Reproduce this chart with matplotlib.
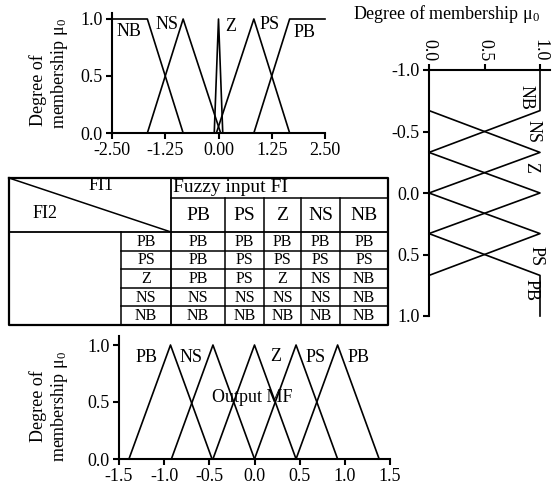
import numpy as np
import matplotlib
matplotlib.use('Agg')
import matplotlib.pyplot as plt

plt.rcParams['font.family'] = ['Liberation Serif', 'DejaVu Serif']
plt.rcParams['mathtext.fontset'] = 'custom'
plt.rcParams['mathtext.rm'] = 'Liberation Serif'
plt.rcParams['mathtext.it'] = 'Liberation Serif:italic'

# --- data ---
# input MF (FI1, top), x breakpoints and membership values
in_names = ['NB', 'NS', 'Z', 'PS', 'PB']
in_x = [[-2.5, -1.67, -0.83],
        [-1.67, -0.83, 0.05],
        [-0.1, 0.0, 0.1],
        [-0.05, 0.83, 1.67],
        [0.83, 1.67, 2.5]]
in_mu = [[1, 1, 0], [0, 1, 0], [0, 1, 0], [0, 1, 0], [0, 1, 1]]

# input MF (FI2, right, rotated): input value vs membership
fi2_val = [[-1.0, -0.67, -0.33],
           [-0.67, -0.33, 0.0],
           [-0.33, 0.0, 0.33],
           [0.0, 0.33, 0.67],
           [0.33, 0.67, 1.0]]
fi2_mu = [[1, 1, 0], [0, 1, 0], [0, 1, 0], [0, 1, 0], [0, 1, 1]]

# output MF (bottom) triangles
out_names = ['PB', 'NS', 'Z', 'PS', 'PB']
out_left = [-1.39, -0.92, -0.46, 0.0, 0.46]
out_peak = [-0.93, -0.46, 0.0, 0.46, 0.92]
out_right = [-0.47, 0.0, 0.46, 0.92, 1.38]

# rule table
fi1_labels = ['PB', 'PS', 'Z', 'NS', 'NB']
fi2_labels = ['PB', 'PS', 'Z', 'NS', 'NB']
rules = [['PB', 'PB', 'PB', 'PB', 'PB'],
         ['PB', 'PS', 'PS', 'PS', 'PS'],
         ['PB', 'PS', 'Z', 'NS', 'NB'],
         ['NS', 'NS', 'NS', 'NS', 'NB'],
         ['NB', 'NB', 'NB', 'NB', 'NB']]

W, H = 556, 491
fig = plt.figure(figsize=(W / 100, H / 100), dpi=100)


def px_axes(x0, y0, x1, y1):
    return fig.add_axes([x0 / W, 1 - y1 / H, (x1 - x0) / W, (y1 - y0) / H])


def style(ax):
    for s in ['left', 'bottom', 'top', 'right']:
        ax.spines[s].set_linewidth(1.5)
    ax.tick_params(direction='out', length=4.5, width=1.5, labelsize=13, pad=2)
    ax.patch.set_alpha(0)


LW = 1.2
mu_label = 'membership μ$_0$'

# --- table (pixel coordinates) ---
tab = fig.add_axes([0, 0, 1, 1])
tab.set_xlim(0, W)
tab.set_ylim(H, 0)
tab.axis('off')
tab.patch.set_alpha(0)

t_l, t_r, t_t, t_b = 9, 388, 178, 325
h1, h2, lab_l = 198, 232, 121
col_edges = [171, 225, 264, 301, 340, 388]
row_edges = np.linspace(h2, t_b, len(fi2_labels) + 1)

tab.plot([t_l, t_r, t_r, t_l, t_l], [t_t, t_t, t_b, t_b, t_t], color='k', lw=1.6)
tab.plot([col_edges[0], t_r], [h1, h1], color='k', lw=1.1)
tab.plot([t_l, t_r], [h2, h2], color='k', lw=1.3)
tab.plot([col_edges[0], col_edges[0]], [t_t, t_b], color='k', lw=1.3)
for cx in col_edges[1:-1]:
    tab.plot([cx, cx], [h1, t_b], color='k', lw=1.1)
tab.plot([lab_l, lab_l], [h2, t_b], color='k', lw=1.1)
for ry in row_edges[1:-1]:
    tab.plot([lab_l, t_r], [ry, ry], color='k', lw=1.1)
tab.plot([t_l, col_edges[0]], [t_t, h2], color='k', lw=1.1)

tab.text(101, 186, 'FI1', fontsize=13, ha='center', va='center')
tab.text(45, 213, 'FI2', fontsize=13, ha='center', va='center')
tab.text(col_edges[0] + 2, 188, 'Fuzzy input FI', fontsize=14, ha='left', va='center')
for j, lab in enumerate(fi1_labels):
    tab.text((col_edges[j] + col_edges[j + 1]) / 2, 216, lab,
             fontsize=14, ha='center', va='center')
for i, lab in enumerate(fi2_labels):
    yc = (row_edges[i] + row_edges[i + 1]) / 2 + 0.5
    tab.text((lab_l + col_edges[0]) / 2, yc, lab, fontsize=11.5, ha='center', va='center')
    for j in range(len(fi1_labels)):
        tab.text((col_edges[j] + col_edges[j + 1]) / 2, yc, rules[i][j],
                 fontsize=11.5, ha='center', va='center')

# --- top: input MF FI1 ---
ax1 = px_axes(112, 133 - 1.05 * 114, 325, 133)
style(ax1)
for xs, ys in zip(in_x, in_mu):
    ax1.plot(xs, ys, color='k', lw=LW, clip_on=False)
ax1.set_xlim(-2.5, 2.5)
ax1.set_ylim(0, 1.05)
ax1.set_xticks([-2.5, -1.25, 0, 1.25, 2.5])
ax1.set_xticklabels(['-2.50', '-1.25', '0.00', '1.25', '2.50'])
ax1.set_yticks([0, 0.5, 1.0])
ax1.set_yticklabels(['0.0', '0.5', '1.0'])
ax1.spines['top'].set_visible(False)
ax1.spines['right'].set_visible(False)
lab_pos = [(-2.1, 0.89), (-1.21, 0.95), (0.29, 0.93), (1.21, 0.95), (2.03, 0.88)]
for name, (lx, ly) in zip(in_names, lab_pos):
    ax1.text(lx, ly, name, fontsize=13, ha='center', va='center')
fig.text(38 / W, 1 - 90 / H, 'Degree of', rotation=90, fontsize=13, ha='center', va='center')
fig.text(59 / W, 1 - 73 / H, mu_label, rotation=90, fontsize=13, ha='center', va='center')

# --- right: input MF FI2 (rotated) ---
ax2 = px_axes(429, 70, 429 + 1.09 * 111, 316)
style(ax2)
for vs, ms in zip(fi2_val, fi2_mu):
    ax2.plot(ms, vs, color='k', lw=LW, clip_on=False)
ax2.set_xlim(0, 1.09)
ax2.set_ylim(1, -1)
ax2.xaxis.tick_top()
ax2.set_xticks([0, 0.5, 1.0])
ax2.set_xticklabels(['0.0', '0.5', '1.0'], rotation=-90)
ax2.set_yticks([-1.0, -0.5, 0.0, 0.5, 1.0])
ax2.set_yticklabels(['-1.0', '-0.5', '0.0', '0.5', '1.0'])
ax2.spines['bottom'].set_visible(False)
ax2.spines['right'].set_visible(False)
lab_pos2 = [(0.87, -0.78), (0.94, -0.50), (0.92, -0.21), (0.96, 0.51), (0.92, 0.79)]
for name, (lx, ly) in zip(in_names, lab_pos2):
    ax2.text(lx, ly, name, fontsize=13, ha='center', va='center', rotation=-90)
fig.text(447 / W, 1 - 14 / H, 'Degree of membership μ$_0$', fontsize=13,
         ha='center', va='center')

# --- bottom: output MF ---
ax3 = px_axes(119, 459 - 1.08 * 114, 390, 459)
style(ax3)
for a, b, c in zip(out_left, out_peak, out_right):
    ax3.plot([a, b, c], [0, 1, 0], color='k', lw=LW, clip_on=False)
ax3.set_xlim(-1.5, 1.5)
ax3.set_ylim(0, 1.08)
ax3.set_xticks([-1.5, -1.0, -0.5, 0.0, 0.5, 1.0, 1.5])
ax3.set_xticklabels(['-1.5', '-1.0', '-0.5', '0.0', '0.5', '1.0', '1.5'])
ax3.set_yticks([0, 0.5, 1.0])
ax3.set_yticklabels(['0.0', '0.5', '1.0'])
ax3.spines['top'].set_visible(False)
ax3.spines['right'].set_visible(False)
lab_pos3 = [(-1.2, 0.89), (-0.70, 0.89), (0.24, 0.90), (0.68, 0.89), (1.15, 0.89)]
for name, (lx, ly) in zip(out_names, lab_pos3):
    ax3.text(lx, ly, name, fontsize=13, ha='center', va='center')
ax3.text(-0.03, 0.54, 'Output MF', fontsize=13, ha='center', va='center')
fig.text(38 / W, 1 - 406 / H, 'Degree of', rotation=90, fontsize=13, ha='center', va='center')
fig.text(59 / W, 1 - 406 / H, mu_label, rotation=90, fontsize=13, ha='center', va='center')

fig.savefig('out.png', dpi=100)
